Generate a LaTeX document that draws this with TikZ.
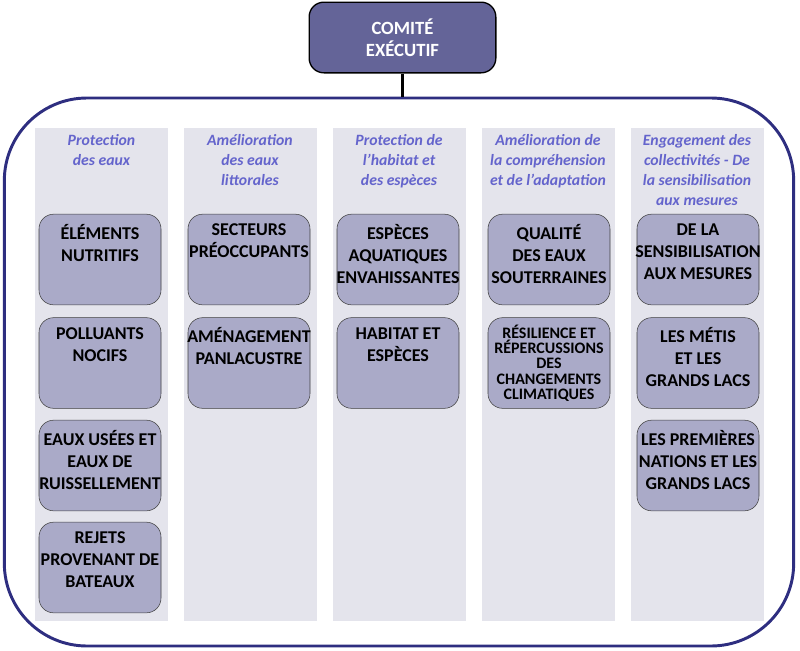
\documentclass[tikz,border=0pt]{standalone}
\usepackage{fontspec}
\setmainfont{Carlito}
\usetikzlibrary{positioning}
\definecolor{comitefond}{RGB}{100,100,152}
\definecolor{cadrebleu}{RGB}{46,46,128}
\definecolor{colfond}{RGB}{228,228,236}
\definecolor{titrebleu}{RGB}{100,100,204}
\definecolor{boitefond}{RGB}{170,170,200}
\begin{document}
\begin{tikzpicture}[x=0.75pt, y=-0.75pt,
		colonne/.style={fill=colfond, draw=none, minimum width=99.75pt,
			minimum height=369.75pt, inner sep=0pt},
		titre/.style={text=titrebleu, font=\fontsize{11.8}{15}\selectfont\bfseries\itshape,
			align=center, anchor=north, inner sep=0pt},
		chantier/.style={draw=black!75, fill=boitefond, rounded corners=11pt,
			minimum width=91.5pt, minimum height=68pt, inner sep=0pt},
		etiquette/.style={font=\fontsize{13.5}{16.5}\selectfont\bfseries,
			align=center, anchor=north, inner sep=0pt}]
	\useasboundingbox (0,0) rectangle (800,650);
	% cadre et comite
	\node[draw=cadrebleu, line width=2.2pt, rounded corners=62pt, minimum width=592pt,
		minimum height=411pt, inner sep=0pt] (cadre) at (399,372) {};
	\node[draw=black, fill=comitefond, line width=1pt, rounded corners=11pt, minimum width=140pt,
		minimum height=53pt, align=center, text=white,
		font=\fontsize{14}{16.5}\selectfont\bfseries] (comite) at (402.5,37.5) {COMITÉ\\EXÉCUTIF};
	\draw[line width=2pt] (comite.south) -- (comite.south |- cadre.north);
	% colonnes
	\foreach \i/\x in {1/101.5, 2/250, 3/399, 4/548, 5/697}
		\node[colonne] (col\i) at (\x,374.5) {};
	\node[titre] (hd1) at (col1.north |- 0,134) {Protection\\des eaux};
	\node[titre] (hd2) at (col2.north |- 0,134) {Amélioration\\des eaux\\littorales};
	\node[titre] (hd3) at (col3.north |- 0,134) {Protection de\\l’habitat et\\des espèces};
	\node[titre] (hd4) at (col4.north |- 0,134) {Amélioration de\\la compréhension\\et de l’adaptation};
	\node[titre] (hd5) at (col5.north |- 0,134) {Engagement des\\collectivités - De\\la sensibilisation\\aux mesures};
	% boites
	\node[chantier] (nutri) at (100,259.5) {};
	\node[chantier] (poll) at (100,363) {};
	\node[chantier] (usees) at (100,465.5) {};
	\node[chantier] (rejets) at (100,567.5) {};
	\node[chantier] (secteurs) at (249,259.5) {};
	\node[chantier] (amenag) at (249,363) {};
	\node[chantier] (especes) at (398,259.5) {};
	\node[chantier] (habitat) at (398,363) {};
	\node[chantier] (qualite) at (549,259.5) {};
	\node[chantier] (resil) at (549,363) {};
	\node[chantier] (sensib) at (698,259.5) {};
	\node[chantier] (metis) at (698,363) {};
	\node[chantier] (nations) at (698,465.5) {};
	% textes des boites
	\node[etiquette, below=7.5pt of nutri.north] (t-nutri) {ÉLÉMENTS\\NUTRITIFS};
	\node[etiquette, below=7.5pt of poll.north] (t-poll) {POLLUANTS\\NOCIFS};
	\node[etiquette, below=7.5pt of usees.north] (t-usees) {EAUX USÉES ET\\EAUX DE\\RUISSELLEMENT};
	\node[etiquette, below=7.5pt of rejets.north] (t-rejets) {REJETS\\PROVENANT DE\\BATEAUX};
	\node[etiquette, below=7.5pt of secteurs.north] (t-secteurs) {SECTEURS\\PRÉOCCUPANTS};
	\node[etiquette, below=7.5pt of amenag.north] (t-amenag) {AMÉNAGEMENT\\PANLACUSTRE};
	\node[etiquette, below=7.5pt of especes.north] (t-especes) {ESPÈCES\\AQUATIQUES\\ENVAHISSANTES};
	\node[etiquette, below=7.5pt of habitat.north] (t-habitat) {HABITAT ET\\ESPÈCES};
	\node[etiquette, below=7.5pt of qualite.north] (t-qualite) {QUALITÉ\\DES EAUX\\SOUTERRAINES};
	\node[etiquette, below=5.5pt of resil.north, font=\fontsize{12}{11.4}\selectfont\bfseries]
		(t-resil) {RÉSILIENCE ET\\RÉPERCUSSIONS\\DES\\CHANGEMENTS\\CLIMATIQUES};
	\node[etiquette, below=7.5pt of sensib.north] (t-sensib) {DE LA\\SENSIBILISATION\\AUX MESURES};
	\node[etiquette, below=7.5pt of metis.north] (t-metis) {LES MÉTIS\\ET LES\\GRANDS LACS};
	\node[etiquette, below=7.5pt of nations.north] (t-nations) {LES PREMIÈRES\\NATIONS ET LES\\GRANDS LACS};
\end{tikzpicture}
\end{document}
